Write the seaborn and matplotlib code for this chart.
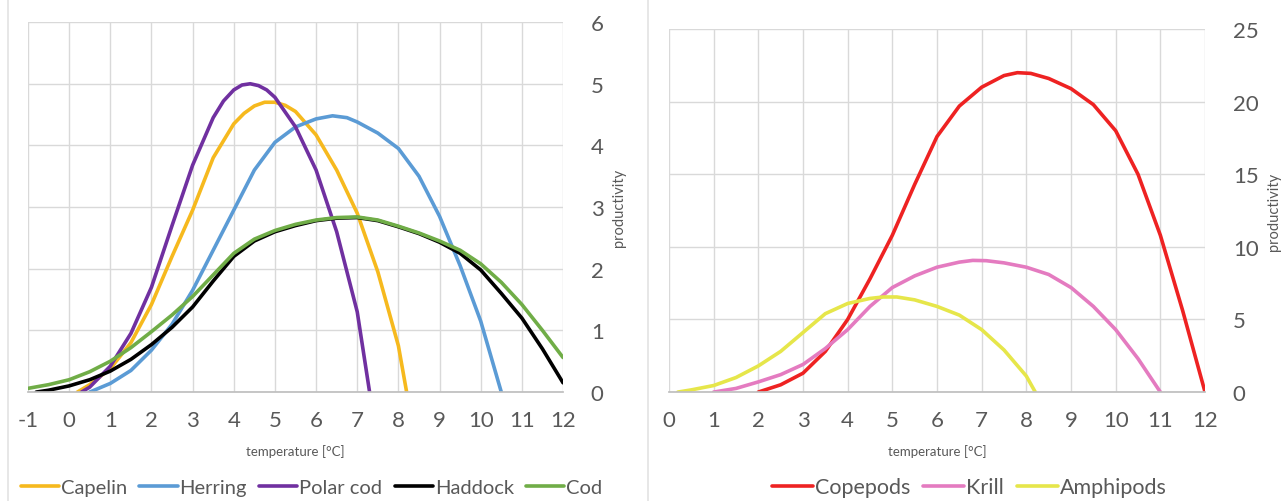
import matplotlib
matplotlib.use("Agg")
import matplotlib.pyplot as plt
import seaborn as sns
from matplotlib.lines import Line2D

# ---- fish (left panel) ----
capelin_x = [0.2, 0.5, 1, 1.5, 2, 2.5, 3, 3.5, 4, 4.25, 4.5, 4.75, 5, 5.25, 5.5, 6, 6.5, 7, 7.5, 8, 8.2]
capelin_y = [0, 0.12, 0.38, 0.8, 1.42, 2.2, 2.95, 3.8, 4.35, 4.52, 4.64, 4.7, 4.7, 4.65, 4.55, 4.17, 3.6, 2.9, 1.95, 0.75, 0]

herring_x = [0.5, 1, 1.5, 2, 2.5, 3, 3.5, 4, 4.5, 5, 5.5, 6, 6.4, 6.75, 7, 7.5, 8, 8.5, 9, 9.5, 10, 10.5]
herring_y = [0, 0.14, 0.35, 0.68, 1.1, 1.65, 2.3, 2.95, 3.6, 4.05, 4.3, 4.43, 4.48, 4.45, 4.38, 4.2, 3.95, 3.5, 2.85, 2.05, 1.15, 0]

polarcod_x = [0.3, 0.5, 1, 1.5, 2, 2.5, 3, 3.5, 3.75, 4, 4.2, 4.4, 4.6, 4.8, 5, 5.5, 6, 6.5, 7, 7.3]
polarcod_y = [0, 0.08, 0.42, 0.95, 1.7, 2.7, 3.68, 4.45, 4.72, 4.9, 4.98, 5.0, 4.97, 4.9, 4.78, 4.3, 3.6, 2.6, 1.3, 0]

haddock_x = [-0.8, -0.5, 0, 0.5, 1, 1.5, 2, 2.5, 3, 3.5, 4, 4.5, 5, 5.5, 6, 6.5, 7, 7.5, 8, 8.5, 9, 9.5, 10, 10.5, 11, 11.5, 12]
haddock_y = [0, 0.03, 0.1, 0.2, 0.34, 0.53, 0.77, 1.05, 1.38, 1.8, 2.2, 2.45, 2.6, 2.7, 2.78, 2.82, 2.83, 2.78, 2.68, 2.57, 2.43, 2.25, 1.98, 1.6, 1.2, 0.7, 0.15]

cod_x = [-1, -0.5, 0, 0.5, 1, 1.5, 2, 2.5, 3, 3.5, 4, 4.5, 5, 5.5, 6, 6.5, 7, 7.5, 8, 8.5, 9, 9.5, 10, 10.5, 11, 11.5, 12]
cod_y = [0.06, 0.12, 0.2, 0.33, 0.5, 0.72, 0.98, 1.25, 1.55, 1.9, 2.25, 2.48, 2.62, 2.72, 2.79, 2.83, 2.84, 2.79, 2.69, 2.58, 2.45, 2.3, 2.08, 1.78, 1.42, 1.0, 0.56]

# ---- zooplankton (right panel) ----
copepods_x = [2, 2.5, 3, 3.5, 4, 4.5, 5, 5.5, 6, 6.5, 7, 7.5, 7.8, 8.1, 8.5, 9, 9.5, 10, 10.5, 11, 11.5, 12]
copepods_y = [0, 0.5, 1.3, 2.8, 5.0, 7.8, 10.8, 14.3, 17.6, 19.7, 21.0, 21.8, 22.0, 21.95, 21.6, 20.9, 19.8, 18.0, 15.0, 10.8, 5.6, 0]

krill_x = [1, 1.5, 2, 2.5, 3, 3.5, 4, 4.5, 5, 5.5, 6, 6.5, 6.8, 7.1, 7.5, 8, 8.5, 9, 9.5, 10, 10.5, 11]
krill_y = [0, 0.25, 0.7, 1.2, 1.9, 3.0, 4.3, 5.9, 7.2, 8.0, 8.6, 8.95, 9.07, 9.05, 8.9, 8.6, 8.1, 7.2, 5.9, 4.3, 2.3, 0]

amphipods_x = [0.2, 0.5, 1, 1.5, 2, 2.5, 3, 3.5, 4, 4.5, 4.8, 5.1, 5.5, 6, 6.5, 7, 7.5, 8, 8.2]
amphipods_y = [0, 0.15, 0.45, 1.0, 1.8, 2.8, 4.1, 5.4, 6.1, 6.45, 6.55, 6.55, 6.35, 5.9, 5.3, 4.3, 2.9, 1.1, 0]

left_series = [
    ("Capelin", capelin_x, capelin_y, "#F6B91E"),
    ("Herring", herring_x, herring_y, "#5B9BD5"),
    ("Polar cod", polarcod_x, polarcod_y, "#7030A0"),
    ("Haddock", haddock_x, haddock_y, "#000000"),
    ("Cod", cod_x, cod_y, "#70AD47"),
]
right_series = [
    ("Copepods", copepods_x, copepods_y, "#EE2222"),
    ("Krill", krill_x, krill_y, "#E47BC0"),
    ("Amphipods", amphipods_x, amphipods_y, "#E6E64A"),
]

sns.set_theme(style="white")
plt.rcParams['font.family'] = ['Lato', 'DejaVu Sans']
plt.rcParams['axes.unicode_minus'] = False
text_col = "#595959"
grid_col = "#D9D9D9"

fig = plt.figure(figsize=(12.84, 5.02), dpi=100)
ax1 = fig.add_axes([0.0218, 0.217, 0.4167, 0.737])
ax2 = fig.add_axes([0.521, 0.217, 0.4175, 0.723])


def style_axis(ax, xlim, xticks, ylim, yticks):
    ax.set_xlim(*xlim)
    ax.set_ylim(*ylim)
    ax.set_xticks(xticks)
    ax.set_yticks(yticks)
    ax.grid(True, color=grid_col, linewidth=1)
    ax.set_axisbelow(True)
    for s in ax.spines.values():
        s.set_visible(False)
    ax.spines['bottom'].set_visible(True)
    ax.spines['bottom'].set_color("#BFBFBF")
    ax.yaxis.tick_right()
    ax.yaxis.set_label_position("right")
    ax.tick_params(axis='both', length=0, labelsize=16, labelcolor=text_col)
    ax.tick_params(axis='y', pad=20)
    ax.tick_params(axis='x', pad=13)
    ax.set_xlabel("temperature [°C]", fontsize=9.5, color=text_col, labelpad=10)
    ax.set_ylabel("productivity", fontsize=10.5, color=text_col, labelpad=6)


for name, xs, ys, c in left_series:
    sns.lineplot(x=xs, y=ys, ax=ax1, color=c, linewidth=2.6, label=name, sort=False)
for name, xs, ys, c in right_series:
    sns.lineplot(x=xs, y=ys, ax=ax2, color=c, linewidth=2.6, label=name, sort=False)

style_axis(ax1, (-1, 12), range(-1, 13), (0, 6), range(0, 7))
style_axis(ax2, (0, 12), range(0, 13), (0, 25), range(0, 26, 5))

for ax, xoff, yoff, fs in [(ax1, 0.53, -0.257, 14.5), (ax2, 0.56, -0.262, 15.5)]:
    leg = ax.legend(loc="center", bbox_to_anchor=(xoff, yoff), ncol=5, frameon=False,
                    fontsize=fs, handlelength=1.9, handletextpad=0.1, columnspacing=0.6,
                    borderaxespad=0, borderpad=0)
    for t in leg.get_texts():
        t.set_color(text_col)

# chart-area borders
fig.add_artist(Line2D([0.006, 0.006], [0.0, 1.0], color="#E3E3E3", linewidth=1.2))
fig.add_artist(Line2D([0.505, 0.505], [0.0, 1.0], color="#E3E3E3", linewidth=1.2))

fig.savefig("out.png", dpi=100)
